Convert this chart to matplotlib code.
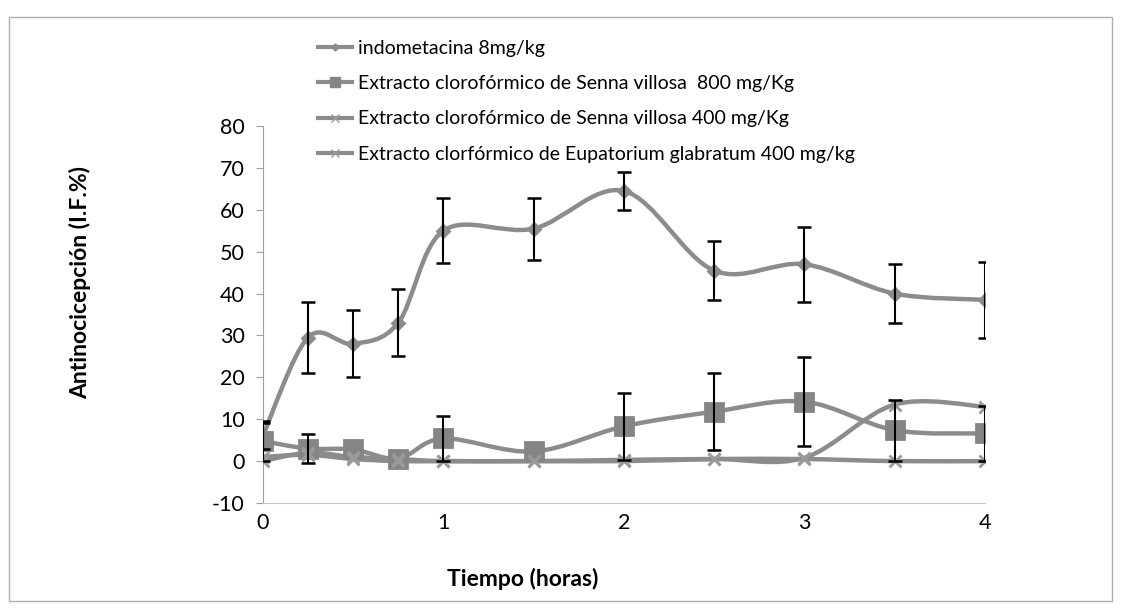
import numpy as np
import matplotlib
matplotlib.use("Agg")
import matplotlib.pyplot as plt
from matplotlib.path import Path
from matplotlib.patches import PathPatch, Rectangle
from matplotlib.lines import Line2D

plt.rcParams['font.family'] = ['Lato', 'DejaVu Sans']
plt.rcParams['axes.unicode_minus'] = False

# time points (hours)
tiempo = [0, 0.25, 0.5, 0.75, 1, 1.5, 2, 2.5, 3, 3.5, 4]

# series values
indometacina = [6, 29.5, 28, 33, 55, 55.5, 64.5, 45.5, 47, 40, 38.5]
indometacina_err = [3, 8.5, 8, 8, 7.8, 7.4, 4.5, 7, 9, 7, 9]

senna_800 = [4.8, 3, 2.8, 0.6, 5.4, 2.3, 8.3, 11.8, 14.2, 7.4, 6.6]
senna_800_err = [4.8, 3.4, 0, 0, 5.3, 0, 8, 9.2, 10.6, 7.3, 6.6]

senna_400 = [1, 1.5, 0.5, 0, 0, 0, 0.3, 0.5, 0.5, 0, 0]
eupatorium = [0, 2, 1, 0.5, 0, 0, 0, 0.5, 0.8, 13.5, 13]

etiquetas = ['indometacina 8mg/kg',
             'Extracto clorofórmico de Senna villosa  800 mg/Kg',
             'Extracto clorofórmico de Senna villosa 400 mg/Kg',
             'Extracto clorfórmico de Eupatorium glabratum 400 mg/kg']

gris = '#8c8c8c'


def smooth_path(x, y):
    # Excel-style smoothed line: cubic Bezier segments through the points
    pts = np.column_stack([np.asarray(x, float), np.asarray(y, float)])
    n = len(pts)
    verts = [pts[0]]
    codes = [Path.MOVETO]
    for i in range(n - 1):
        p0 = pts[i - 1] if i > 0 else pts[i]
        p1 = pts[i]
        p2 = pts[i + 1]
        p3 = pts[i + 2] if i + 2 < n else pts[i + 1]
        verts += [p1 + (p2 - p0) / 6.0, p2 - (p3 - p1) / 6.0, p2]
        codes += [Path.CURVE4] * 3
    return Path(verts, codes)


fig = plt.figure(figsize=(11.23, 6.08), dpi=100)
ax = fig.add_axes([0.234, 0.1727, 0.643, 0.620])

series = [
    (indometacina, indometacina_err, 'D', 6, gris),
    (senna_800, senna_800_err, 's', 13, '#858585'),
    (senna_400, None, 'x', 9, '#9a9a9a'),
    (eupatorium, None, 'x', 9, '#9a9a9a'),
]

handles = []
for vals, err, mk, ms, col in series:
    ax.add_patch(PathPatch(smooth_path(tiempo, vals), facecolor='none',
                           edgecolor=gris, lw=3.2, zorder=2))
    ax.plot(tiempo, vals, ls='none', marker=mk, ms=ms, color=col,
            mec=col, mew=2, zorder=3)
    if err is not None:
        keep = [i for i, e in enumerate(err) if e > 0]
        ax.errorbar([tiempo[i] for i in keep], [vals[i] for i in keep],
                    yerr=[err[i] for i in keep], fmt='none', ecolor='black',
                    elinewidth=1.5, capsize=5, capthick=1.8, zorder=4)
    handles.append(Line2D([], [], color=gris, lw=3, marker=mk,
                          ms=ms * 0.6, mec=col, mfc=col))

ax.set_xlim(0, 4)
ax.set_ylim(-10, 80)
ax.set_xticks([0, 1, 2, 3, 4])
ax.set_yticks(np.arange(-10, 81, 10))
ax.tick_params(axis='y', direction='out', length=5, color='#a0a0a0',
               labelsize=15.5, pad=8)
ax.tick_params(axis='x', length=0, labelsize=15.5, pad=7)
for s in ['top', 'right']:
    ax.spines[s].set_visible(False)
ax.spines['left'].set_color('#a0a0a0')
ax.spines['bottom'].set_color('#c8c8c8')

fig.text(0.0712, 0.535, 'Antinocicepción (I.F.%)', rotation=90,
         ha='center', va='center', fontsize=16.5, fontweight='bold')
fig.text(0.465, 0.047, 'Tiempo (horas)', ha='center', va='center',
         fontsize=16.5, fontweight='bold')

fig.legend(handles, etiquetas, loc='upper left',
           bbox_to_anchor=(0.283, 0.935), frameon=False, fontsize=14,
           handlelength=1.75, handletextpad=0.3, labelspacing=0.95,
           borderpad=0, borderaxespad=0)

fig.patches.append(Rectangle((0.008, 0.012), 0.982, 0.960,
                             transform=fig.transFigure, fill=False,
                             edgecolor='#b0b0b0', lw=1))

fig.savefig('out.png', dpi=100)
